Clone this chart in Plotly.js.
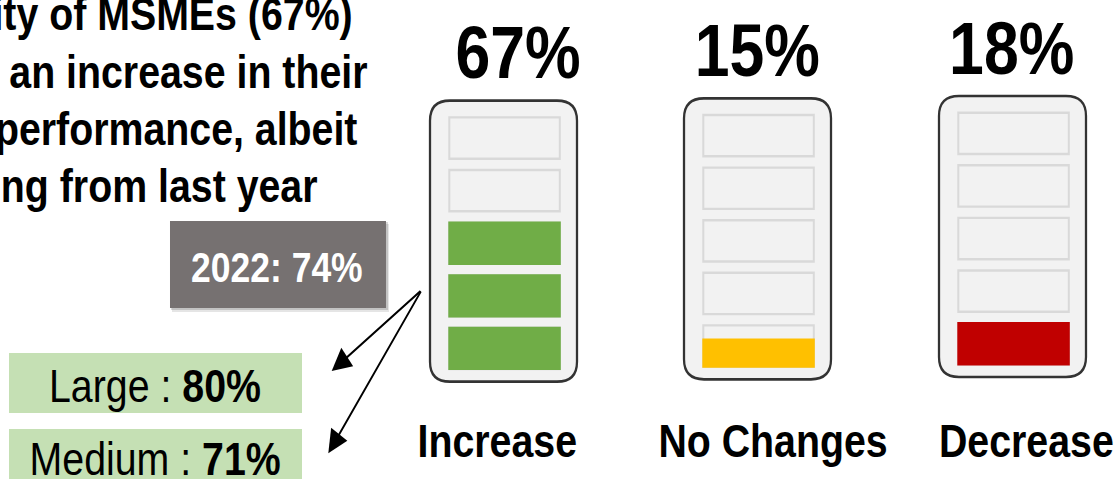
<!DOCTYPE html>
<html>
<head>
<meta charset="utf-8">
<script src="https://cdn.plot.ly/plotly-3.0.1.min.js"></script>
<style>
  html, body { margin: 0; padding: 0; background: #ffffff; overflow: hidden; width: 1119px; height: 479px; }
  #wrap { width: 1119px; height: 479px; overflow: hidden; }
</style>
</head>
<body>
<div id="wrap"><div id="chart"></div></div>
<script>
// ---------------- data ----------------
const categories = ['Increase', 'No Changes', 'Decrease'];
const shares = [67, 15, 18];                 // % of MSMEs
const filledCells = [3, 0.68, 1];            // battery cells filled (of 5), as drawn
const fillColors = ['#70ad47', '#ffc000', '#c00000'];
const headlineLines = ['ity of MSMEs (67%)', 'an increase in their', 'performance, albeit', 'ng from last year'];
const priorYear = '2022';
const priorShare = 74;
const sizeClasses = ['Large', 'Medium'];
const sizeShares = [80, 71];

// ---------------- layout constants ----------------
// Arial-Narrow look: Liberation Sans drawn on a canvas that is squeezed horizontally
const FONT = '"Liberation Sans", Arial, sans-serif';
const W = 1119, H = 479;
const SQUEEZE = 0.845;
const PW = Math.round(W / SQUEEZE);
const batteryLeft = [430, 684, 939];
const batteryTop = [100.7, 98.3, 96];
const BW = 147, BH = 281, BR = 20;
const nCells = 5, cellInsetX = 19.3, cellW = 110.5, cellTop0 = 16.7, cellPitch = 52.6, cellH = 41.3;
const shareLabelX = [518.5, 757.5, 1011.7];
const shareLabelY = [52.5, 50.2, 48.5];
const catLabelX = [497, 772.5, 1026.5];
const catLabelY = 440.6;
const headlineRight = [353.3, 368.3, 358.3, 318.3];
const headlineY = [14.1, 72.4, 128.7, 185.8];

function roundedRect(x0, y0, x1, y1, r) {
  return 'M' + (x0 + r) + ',' + y0 +
    ' L' + (x1 - r) + ',' + y0 + ' Q' + x1 + ',' + y0 + ' ' + x1 + ',' + (y0 + r) +
    ' L' + x1 + ',' + (y1 - r) + ' Q' + x1 + ',' + y1 + ' ' + (x1 - r) + ',' + y1 +
    ' L' + (x0 + r) + ',' + y1 + ' Q' + x0 + ',' + y1 + ' ' + x0 + ',' + (y1 - r) +
    ' L' + x0 + ',' + (y0 + r) + ' Q' + x0 + ',' + y0 + ' ' + (x0 + r) + ',' + y0 + ' Z';
}

const shapes = [];
const annotations = [];

// batteries
categories.forEach(function (cat, i) {
  const x0 = batteryLeft[i], y0 = batteryTop[i];
  shapes.push({
    type: 'path', xref: 'x', yref: 'y', path: roundedRect(x0, y0, x0 + BW, y0 + BH, BR),
    fillcolor: '#f2f2f2', line: { color: '#333333', width: 2.7 }, layer: 'above'
  });
  for (let k = 0; k < nCells; k++) {
    const cy0 = y0 + cellTop0 + k * cellPitch;
    shapes.push({
      type: 'rect', xref: 'x', yref: 'y',
      x0: x0 + cellInsetX, x1: x0 + cellInsetX + cellW, y0: cy0, y1: cy0 + cellH,
      fillcolor: '#f2f2f2', line: { color: '#d9d9d9', width: 2.4 }, layer: 'above'
    });
  }
  // filled cells from the bottom
  for (let b = 0; b < nCells; b++) {
    const frac = Math.max(0, Math.min(1, filledCells[i] - b));
    if (frac <= 0) continue;
    const k = nCells - 1 - b;
    const cy1 = y0 + cellTop0 + k * cellPitch + cellH;
    shapes.push({
      type: 'rect', xref: 'x', yref: 'y',
      x0: x0 + cellInsetX - 1, x1: x0 + cellInsetX + cellW + 1,
      y0: cy1 + 1, y1: cy1 - frac * cellH - (frac >= 1 ? 1 : 0),
      fillcolor: fillColors[i], line: { width: 0 }, layer: 'above'
    });
  }
  annotations.push({
    x: shareLabelX[i], y: shareLabelY[i], xref: 'x', yref: 'y', showarrow: false,
    text: '<b>' + shares[i] + '%</b>', xanchor: 'center', yanchor: 'middle',
    font: { family: FONT, size: 74, color: '#000000' }, borderpad: 0
  });
  annotations.push({
    x: catLabelX[i], y: catLabelY, xref: 'x', yref: 'y', showarrow: false,
    text: '<b>' + cat + '</b>', xanchor: 'center', yanchor: 'middle',
    font: { family: FONT, size: 46.5, color: '#000000' }, borderpad: 0
  });
});

// headline (cropped at the left edge in the source)
headlineLines.forEach(function (line, j) {
  annotations.push({
    x: headlineRight[j], y: headlineY[j], xref: 'x', yref: 'y', showarrow: false,
    text: '<b>' + line + '</b>', xanchor: 'right', yanchor: 'middle',
    font: { family: FONT, size: 46.5, color: '#000000' }, borderpad: 0
  });
});

// prior-year box with soft shadow
shapes.push({ type: 'rect', xref: 'x', yref: 'y', x0: 172, x1: 389, y0: 224, y1: 312,
  fillcolor: 'rgba(0,0,0,0.10)', line: { width: 0 }, layer: 'below' });
shapes.push({ type: 'rect', xref: 'x', yref: 'y', x0: 171, x1: 388, y0: 222, y1: 310,
  fillcolor: 'rgba(0,0,0,0.15)', line: { width: 0 }, layer: 'below' });
shapes.push({ type: 'rect', xref: 'x', yref: 'y', x0: 170, x1: 386, y0: 221, y1: 308,
  fillcolor: '#767171', line: { width: 0 }, layer: 'below' });
annotations.push({
  x: 277, y: 267.1, xref: 'x', yref: 'y', showarrow: false,
  text: '<b>' + priorYear + ': ' + priorShare + '%</b>', xanchor: 'center', yanchor: 'middle',
  font: { family: FONT, size: 42, color: '#ffffff' }, borderpad: 0
});

// size-class boxes
const boxTop = [353, 429], boxBottom = [413, 489], boxTextY = [385.7, 459];
sizeClasses.forEach(function (c, j) {
  shapes.push({ type: 'rect', xref: 'x', yref: 'y', x0: 9, x1: 302, y0: boxTop[j], y1: boxBottom[j],
    fillcolor: '#c5e0b4', line: { width: 0 }, layer: 'below' });
  annotations.push({
    x: 155, y: boxTextY[j], xref: 'x', yref: 'y', showarrow: false,
    text: c + ' : <b>' + sizeShares[j] + '%</b>', xanchor: 'center', yanchor: 'middle',
    font: { family: FONT, size: 46.5, color: '#000000' }, borderpad: 0
  });
});

// arrows from the Increase battery to the size boxes
const arrowHeads = [[331.7, 371], [328.3, 453.3]];
arrowHeads.forEach(function (p) {
  annotations.push({
    x: p[0], y: p[1], ax: 421.7, ay: 290, xref: 'x', yref: 'y', axref: 'x', ayref: 'y',
    text: '', showarrow: true, arrowhead: 2, arrowsize: 2.1, arrowwidth: 2.2, arrowcolor: '#000000', standoff: 0
  });
});

const layout = {
  width: PW, height: H,
  margin: { l: 0, r: 0, t: 0, b: 0, pad: 0 },
  paper_bgcolor: '#ffffff', plot_bgcolor: '#ffffff',
  xaxis: { range: [0, W], visible: false, fixedrange: true },
  yaxis: { range: [H, 0], visible: false, fixedrange: true },
  showlegend: false,
  shapes: shapes,
  annotations: annotations
};

const chart = document.getElementById('chart');
chart.style.width = PW + 'px';
chart.style.height = H + 'px';
chart.style.transformOrigin = '0 0';
chart.style.transform = 'scaleX(' + (W / PW) + ')';

Plotly.newPlot(chart, [{ x: [], y: [], type: 'scatter', hoverinfo: 'skip' }], layout,
  { staticPlot: true, displayModeBar: false });
</script>
</body>
</html>
